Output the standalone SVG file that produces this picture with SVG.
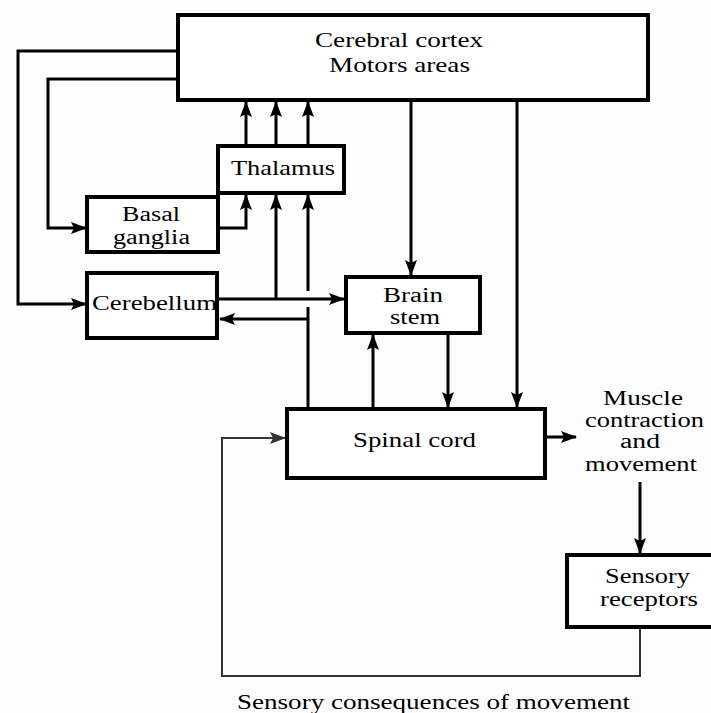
<svg xmlns="http://www.w3.org/2000/svg" width="711" height="713" viewBox="0 0 711 713">
<defs>
<marker id="ah" markerUnits="userSpaceOnUse" markerWidth="16" markerHeight="12" refX="15" refY="6" orient="auto" viewBox="0 0 16 12">
<path d="M0,0 L16,6 L0,12 L3,6 z" fill="#000"/>
</marker>
<marker id="ahg" markerUnits="userSpaceOnUse" markerWidth="16" markerHeight="12" refX="15" refY="6" orient="auto" viewBox="0 0 16 12">
<path d="M0,0 L16,6 L0,12 L3,6 z" fill="#333"/>
</marker>
<style>
.box{fill:#fff;stroke:#000;stroke-width:4}
.t{font-family:"Liberation Serif","Times New Roman",serif;font-size:22px;fill:#000;text-anchor:middle}
.m{font-size:20px}
.c{fill:none;stroke:#000;stroke-width:3}
.a{marker-end:url(#ah)}
.fb{fill:none;stroke:#333;stroke-width:2;marker-end:url(#ahg)}
</style>
</defs>
<rect width="711" height="713" fill="#fdfdfd"/>
<g id="connectors">
<path class="c a" d="M178,51 H18 V304 H86"/>
<path class="c a" d="M178,79 H48 V228 H86"/>
<path class="c a" d="M246,146 V102"/>
<path class="c a" d="M276,146 V102"/>
<path class="c a" d="M308,146 V102"/>
<path class="c a" d="M219,228 H246 V195"/>
<path class="c a" d="M219,299 H344"/>
<path class="c a" d="M276,299 V195"/>
<path class="c" d="M308,408 V307"/>
<path class="c a" d="M308,291 V195"/>
<path class="c a" d="M308,319 H220"/>
<path class="c a" d="M411,100 V275"/>
<path class="c a" d="M448,333 V407"/>
<path class="c a" d="M373,409 V335"/>
<path class="c a" d="M517,100 V407"/>
<path class="c a" d="M545,437 H576"/>
<path class="c a" d="M640,482 V553"/>
<path class="fb" d="M640,627 V676 H222 V438 H285"/>
</g>
<g id="cortex">
<rect class="box" x="178" y="15" width="470" height="85"/>
<text class="t" x="399" y="47" textLength="168" lengthAdjust="spacingAndGlyphs">Cerebral cortex</text>
<text class="t" x="399.5" y="72" textLength="141" lengthAdjust="spacingAndGlyphs">Motors areas</text>
</g>
<g id="thalamus">
<rect class="box" x="218" y="146" width="126" height="47"/>
<text class="t" x="283" y="175" textLength="104" lengthAdjust="spacingAndGlyphs">Thalamus</text>
</g>
<g id="basal-ganglia">
<rect class="box" x="87" y="197" width="131" height="55"/>
<text class="t m" x="151" y="221" textLength="58" lengthAdjust="spacingAndGlyphs">Basal</text>
<text class="t m" x="151.5" y="244" textLength="77" lengthAdjust="spacingAndGlyphs">ganglia</text>
</g>
<g id="cerebellum">
<rect class="box" x="87" y="273" width="130" height="65"/>
<text class="t" x="154.5" y="310" textLength="125" lengthAdjust="spacingAndGlyphs">Cerebellum</text>
</g>
<g id="brain-stem">
<rect class="box" x="346" y="277" width="134" height="56"/>
<text class="t m" x="413" y="302" textLength="60" lengthAdjust="spacingAndGlyphs">Brain</text>
<text class="t m" x="415" y="324" textLength="50" lengthAdjust="spacingAndGlyphs">stem</text>
</g>
<g id="spinal-cord">
<rect class="box" x="287" y="409" width="258" height="69"/>
<text class="t" x="414.5" y="447" textLength="123" lengthAdjust="spacingAndGlyphs">Spinal cord</text>
</g>
<g id="muscle">
<text class="t m" x="643" y="405" textLength="80" lengthAdjust="spacingAndGlyphs">Muscle</text>
<text class="t m" x="644.5" y="427" textLength="119" lengthAdjust="spacingAndGlyphs">contraction</text>
<text class="t m" x="640" y="448" textLength="40" lengthAdjust="spacingAndGlyphs">and</text>
<text class="t m" x="641" y="471" textLength="112" lengthAdjust="spacingAndGlyphs">movement</text>
</g>
<g id="sensory-receptors">
<rect class="box" x="567" y="555" width="150" height="72"/>
<text class="t m" x="647.5" y="583" textLength="85" lengthAdjust="spacingAndGlyphs">Sensory</text>
<text class="t m" x="649" y="606" textLength="98" lengthAdjust="spacingAndGlyphs">receptors</text>
</g>
<g id="feedback-label">
<text class="t" x="433.5" y="709" textLength="393" lengthAdjust="spacingAndGlyphs">Sensory consequences of movement</text>
</g>
</svg>
